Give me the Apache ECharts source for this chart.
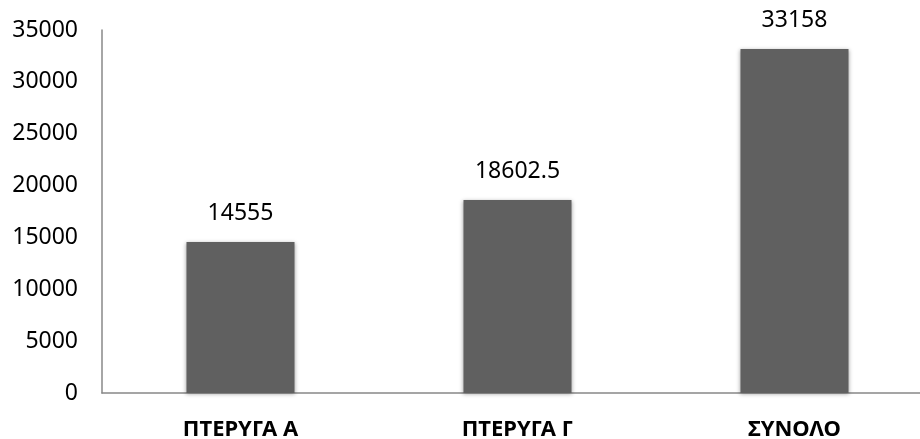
<!DOCTYPE html>
<html>
<head>
<meta charset="utf-8">
<script src="https://cdn.jsdelivr.net/npm/echarts@6/dist/echarts.min.js"></script>
<style>
  html, body { margin: 0; padding: 0; background: #ffffff; }
  #chart { width: 920px; height: 439px; }
</style>
</head>
<body>
<div id="chart"></div>
<script>
// Wing totals and overall sum
const categories = ['ΠΤΕΡΥΓΑ Α', 'ΠΤΕΡΥΓΑ Γ', 'ΣΥΝΟΛΟ'];
const values = [14555, 18602.5, 33158];
const yMin = 0;
const yMax = 35000;
const yStep = 5000;

const font = '"Noto Sans", "Open Sans", sans-serif';

const chart = echarts.init(document.getElementById('chart'), null, { renderer: 'canvas' });
chart.setOption({
  animation: false,
  backgroundColor: '#ffffff',
  // plot area runs slightly past the right edge of the canvas
  grid: { left: 102, top: 30, height: 363, width: 831, containLabel: false, outerBoundsMode: 'none' },
  xAxis: {
    type: 'category',
    data: categories,
    axisLine: { show: true, lineStyle: { color: '#888888', width: 1.5 } },
    axisTick: { show: false },
    axisLabel: {
      color: '#000000',
      fontFamily: font,
      fontWeight: 'bold',
      fontSize: 22,
      margin: 26
    },
    splitLine: { show: false }
  },
  yAxis: {
    type: 'value',
    min: yMin,
    max: yMax,
    interval: yStep,
    axisLine: { show: true, lineStyle: { color: '#888888', width: 1.5 } },
    axisTick: { show: false },
    splitLine: { show: false },
    axisLabel: {
      color: '#000000',
      fontFamily: font,
      fontSize: 23,
      margin: 24,
      formatter: (v) => String(v)
    }
  },
  series: [{
    type: 'bar',
    data: values,
    barWidth: '39%',
    itemStyle: {
      color: '#606060',
      shadowColor: 'rgba(0,0,0,0.35)',
      shadowBlur: 4,
      shadowOffsetX: 0,
      shadowOffsetY: 1
    },
    label: {
      show: true,
      position: 'top',
      distance: 17,
      color: '#000000',
      fontFamily: font,
      fontSize: 23
    }
  }]
});
</script>
</body>
</html>
